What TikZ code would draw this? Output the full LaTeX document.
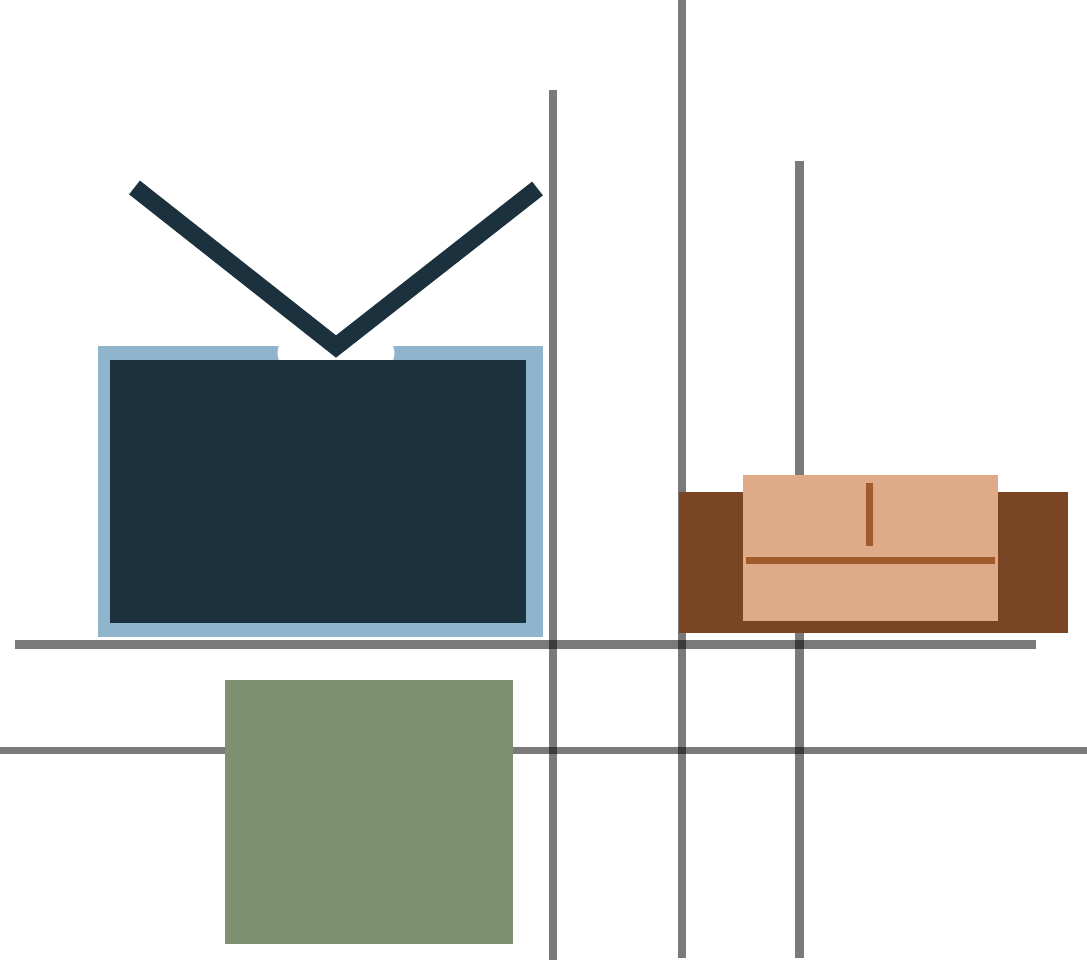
\documentclass[tikz,border=0pt]{standalone}
\usepackage{xcolor}
\definecolor{tvdark}{RGB}{28,49,62}
\definecolor{tvblue}{RGB}{143,181,205}
\definecolor{sofabrown}{RGB}{122,69,34}
\definecolor{sofapeach}{RGB}{223,170,135}
\definecolor{sofabar}{RGB}{160,90,44}
\definecolor{rugreen}{RGB}{125,145,113}
\tikzset{
  rail/.style={draw=black,draw opacity=0.52,line width=0.172cm},
  railthin/.style={draw=black,draw opacity=0.52,line width=0.128cm},
  bar/.style={draw=sofabar,line width=0.14cm},
}
\begin{document}
\begin{tikzpicture}[x=0.02cm,y=-0.02cm]
\useasboundingbox (0,0) rectangle (1087,960);
\fill[white] (0,0) rectangle (1087,960);
% ---- RAILS ----
\draw[rail] (553,90) -- (553,960);
\draw[rail] (682,0) -- (682,958);
\draw[rail] (799.5,161) -- (799.5,958);
\draw[rail] (15,644.5) -- (1036,644.5);
\draw[railthin] (0,750.3) -- (1087,750.3);
% ---- TV ----
\fill[tvblue] (98,346) rectangle (542.5,637);
\fill[white] (279,346) .. controls (277,351) and (277,355) .. (279,360) -- (393,360) .. controls (395,355) and (395,351) .. (393,346) -- cycle;
\fill[tvdark] (110,360) rectangle (526,623);
\draw[tvdark,line width=0.35cm,miter limit=10] (134.5,187.5) -- (336,346.5) -- (537.5,188.5);
% ---- SOFA ----
\fill[sofabrown] (679,491.5) rectangle (1067.5,633);
\fill[sofapeach] (743,475) rectangle (998,621);
\draw[bar] (869,483) -- (869,546);
\draw[bar] (746,560) -- (994.5,560);
% ---- RUG ----
\fill[rugreen] (225,680.3) rectangle (513,943.5);
\end{tikzpicture}
\end{document}
